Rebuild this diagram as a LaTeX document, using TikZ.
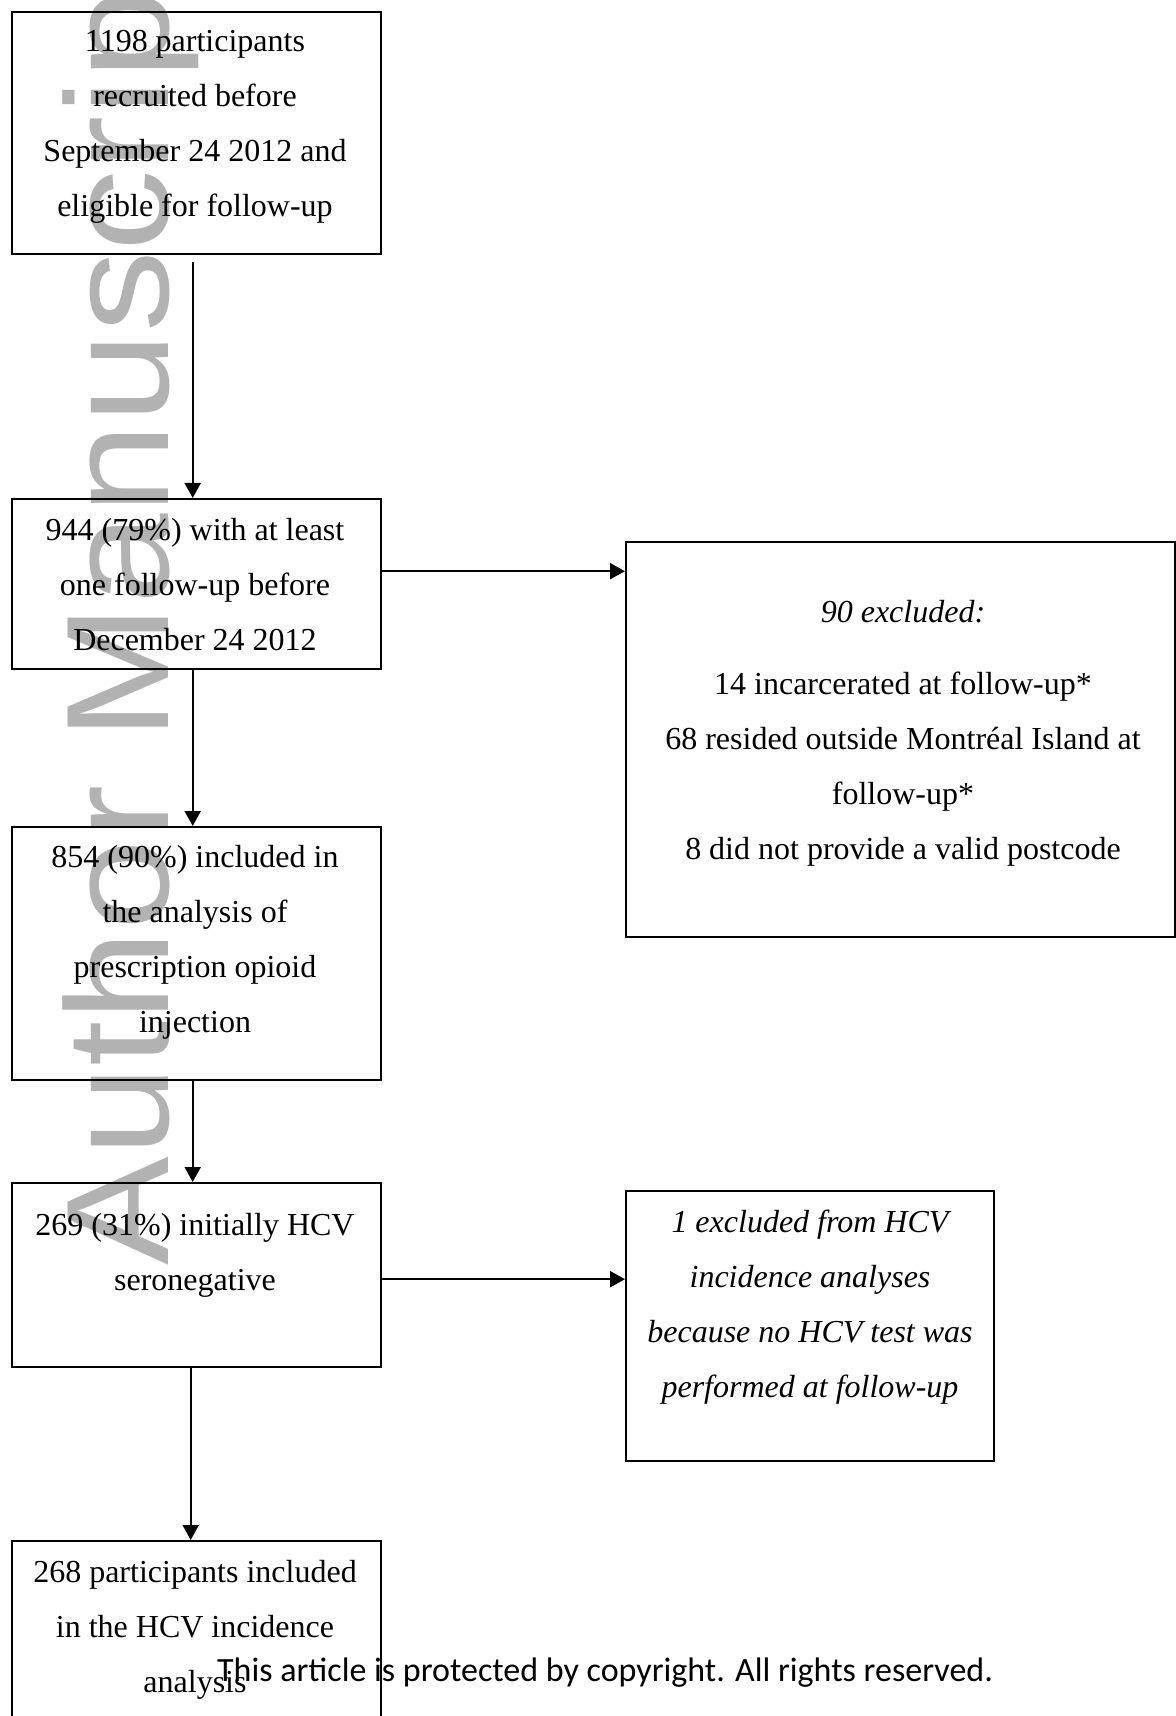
\documentclass[tikz,border=0pt]{standalone}
\usepackage{fontspec}
\setmainfont{Liberation Serif}
\newfontfamily\wmfont{Liberation Sans}
\newfontfamily\footfont{Carlito}
\usetikzlibrary{arrows.meta}
\tikzset{
  box/.style={draw, line width=1.2pt, anchor=north west, minimum width=184.5pt, inner sep=0pt},
  txt/.style={align=center, inner sep=0pt, font=\fontsize{16pt}{27.5pt}\selectfont},
  arr/.style={line width=1pt, -{Triangle[length=7.5pt,width=8pt]}},
  wm/.style={text=black!30, inner sep=0pt, font=\wmfont\fontsize{73pt}{73pt}\selectfont}
}
\begin{document}
\begin{tikzpicture}[x=0.5pt,y=-0.5pt]
\useasboundingbox (0,0) rectangle (1176,1716);
\clip (0,0) rectangle (1176,1716);
\fill[white] (0,0) rectangle (1176,1716);
% watermark
\node[wm, rotate=90, anchor=base west] (wmark) at (168,1266) {\scalebox{1.116}[1]{Author Manuscript}};
% boxes
\node[box, minimum height=121pt] (b1) at (11,11) {};
\node[box, minimum height=85pt] (b2) at (11,498) {};
\node[box, minimum height=126.5pt] (b3) at (11,826) {};
\node[box, minimum height=92pt] (b4) at (11,1182) {};
\node[box, minimum height=110pt] (b5) at (11,1540) {};
\node[box, minimum width=274.5pt, minimum height=197.5pt] (r1) at (625,541) {};
\node[box, minimum width=184pt, minimum height=135pt] (r2) at (625,1190) {};
% texts
\node[txt] (t1) at (195,126.5) {1198 participants\\recruited before\\September 24 2012 and\\eligible for follow-up};
\node[txt] (t2) at (195,585) {944 (79\%) with at least\\one follow-up before\\December 24 2012};
\node[txt] (t3) at (195,942) {854 (90\%) included in\\the analysis of\\prescription opioid\\injection};
\node[txt] (t4) at (195,1255) {269 (31\%) initially HCV\\seronegative};
\node[txt] (t5) at (195,1630) {268 participants included\\in the HCV incidence\\analysis};
\node[txt] (t6) at (903,733) {\textit{90 excluded:}\\[8.5pt]14 incarcerated at follow-up*\\68 resided outside Montréal Island at\\follow-up*\\8 did not provide a valid postcode};
\node[txt, font=\itshape\fontsize{16pt}{27.5pt}\selectfont] (t7) at (810,1307) {1 excluded from HCV\\incidence analyses\\because no HCV test was\\performed at follow-up};
% connectors
\draw[arr] ([xshift=-2pt,yshift=-3.5pt]b1.south) -- ([xshift=-2pt]b2.north);
\draw[arr] ([xshift=-2pt]b2.south) -- ([xshift=-2pt]b3.north);
\draw[arr] ([xshift=-2pt]b3.south) -- ([xshift=-2pt]b4.north);
\draw[arr] ([xshift=-3pt]b4.south) -- ([xshift=-3pt]b5.north);
\draw[arr] ([yshift=6.5pt]b2.east) -- ([yshift=6.5pt]b2.east -| r1.west);
\draw[arr] ([yshift=-2pt]b4.east) -- ([yshift=-2pt]b4.east -| r2.west);
% footer
\node[inner sep=0pt, font=\footfont\fontsize{17pt}{20pt}\selectfont] (foot) at (605,1673) {This article is protected by copyright. All rights reserved.};
\end{tikzpicture}
\end{document}
